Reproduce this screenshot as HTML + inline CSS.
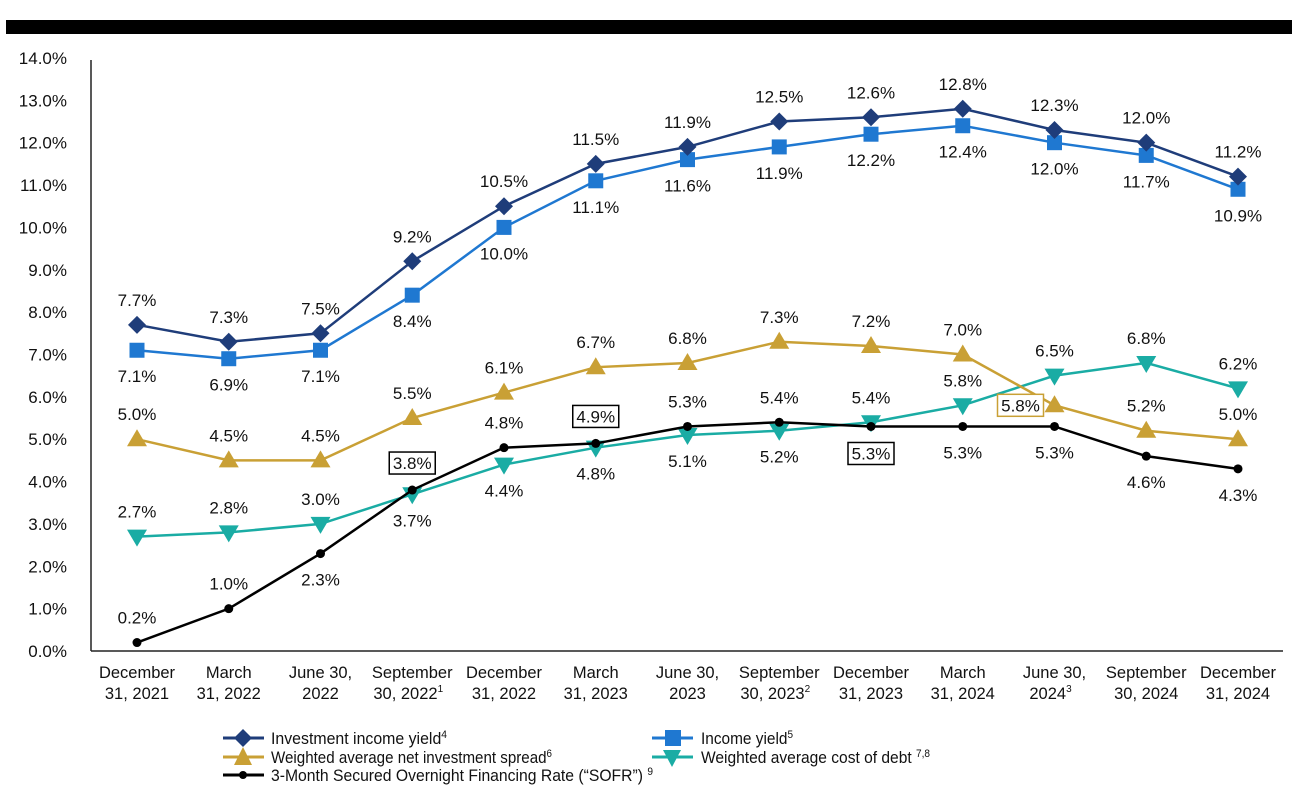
<!DOCTYPE html>
<html><head><meta charset="utf-8"><style>
body{margin:0;background:#fff;width:1292px;height:801px;overflow:hidden}
svg text{font-family:"Liberation Sans",Arial,sans-serif;fill:#111}
</style></head><body>
<svg id="chart" width="1292" height="801" viewBox="0 0 1292 801" xmlns="http://www.w3.org/2000/svg">
<rect x="6" y="20" width="1286" height="14" fill="#000"/>
<g id="axes"></g><g id="series"></g>
<g id="legend" font-size="17">
 <g>
  <line x1="223" y1="738" x2="264" y2="738" stroke="#1f3d7a" stroke-width="3"/><path d="M243 729 L252 738 L243 747 L234 738Z" fill="#1f3d7a"/>
  <text x="271" y="744" textLength="176" lengthAdjust="spacingAndGlyphs">Investment income yield<tspan font-size="11" dy="-6">4</tspan></text></g>
 <g>
  <line x1="652" y1="738" x2="693" y2="738" stroke="#1f78d1" stroke-width="3"/><rect x="665" y="730" width="16" height="16" fill="#1f78d1"/>
  <text x="701" y="744" textLength="92" lengthAdjust="spacingAndGlyphs">Income yield<tspan font-size="11" dy="-6">5</tspan></text></g>
 <g>
  <line x1="223" y1="757" x2="264" y2="757" stroke="#c9a035" stroke-width="3"/><path d="M243 747 L252 765 L234 765Z" fill="#c9a035"/>
  <text x="271" y="763" textLength="281" lengthAdjust="spacingAndGlyphs">Weighted average net investment spread<tspan font-size="11" dy="-6">6</tspan></text></g>
 <g>
  <line x1="652" y1="757" x2="693" y2="757" stroke="#1aaca4" stroke-width="3"/><path d="M663 750 L681 750 L672 767Z" fill="#1aaca4"/>
  <text x="701" y="763" textLength="229" lengthAdjust="spacingAndGlyphs">Weighted average cost of debt <tspan font-size="11" dy="-6">7,8</tspan></text></g>
 <g>
  <line x1="223" y1="775" x2="264" y2="775" stroke="#000" stroke-width="3"/><circle cx="243" cy="775" r="4" fill="#000"/>
  <text x="271" y="781" textLength="382" lengthAdjust="spacingAndGlyphs">3-Month Secured Overnight Financing Rate (“SOFR”) <tspan font-size="11" dy="-6">9</tspan></text></g>
</g>
</svg>
<script>
const categories1 = ["December","March","June 30,","September","December","March","June 30,","September","December","March","June 30,","September","December"];
const categories2 = ["31, 2021","31, 2022","2022","30, 2022","31, 2022","31, 2023","2023","30, 2023","31, 2023","31, 2024","2024","30, 2024","31, 2024"];
const categorySup = ["","","","1","","","","2","","","3","",""];
const yTicks = [0,1,2,3,4,5,6,7,8,9,10,11,12,13,14];
const investmentIncomeYield = [7.7,7.3,7.5,9.2,10.5,11.5,11.9,12.5,12.6,12.8,12.3,12.0,11.2];
const incomeYield = [7.1,6.9,7.1,8.4,10.0,11.1,11.6,11.9,12.2,12.4,12.0,11.7,10.9];
const netSpread = [5.0,4.5,4.5,5.5,6.1,6.7,6.8,7.3,7.2,7.0,5.8,5.2,5.0];
const costOfDebt = [2.7,2.8,3.0,3.7,4.4,4.8,5.1,5.2,5.4,5.8,6.5,6.8,6.2];
const sofr = [0.2,1.0,2.3,3.8,4.8,4.9,5.3,5.4,5.3,5.3,5.3,4.6,4.3];
const ns="http://www.w3.org/2000/svg";
const x=i=>137+i*91.75;
const y=v=>651-v*42.36;
function el(t,a,p){const e=document.createElementNS(ns,t);for(const k in a)e.setAttribute(k,a[k]);p.appendChild(e);return e;}
const axes=document.getElementById('axes');
let l=el('line',{x1:91,y1:60,x2:91,y2:651,stroke:'#222','stroke-width':1.5},axes);


l=el('line',{x1:91,y1:651,x2:1283,y2:651,stroke:'#222','stroke-width':1.5},axes);


yTicks.forEach(v=>{const t=el('text',{x:67,y:y(v)+6,'text-anchor':'end','font-size':17},axes);t.textContent=v.toFixed(1)+'%';

});
categories1.forEach((c,i)=>{const t=el('text',{x:x(i),y:678,'text-anchor':'middle','font-size':16.5},axes);t.textContent=c;


const t2=el('text',{x:x(i)-(categorySup[i]?4:0),y:699,'text-anchor':'middle','font-size':16.5},axes);t2.textContent=categories2[i];


if(categorySup[i]){const s=el('tspan',{'font-size':10,dy:-7},t2);s.textContent=categorySup[i];}});
const series=[
 {name:'cost-of-debt',d:costOfDebt,c:'#1aaca4',m:'tri-down',pos:['a','a','a','b','b','b','b','b','a','a','a','a','a']},
 {name:'net-investment-spread',d:netSpread,c:'#c9a035',m:'tri-up',pos:['a','a','a','a','a','a','a','a','a','a','L','a','a']},
 {name:'income-yield',d:incomeYield,c:'#1f78d1',m:'square',pos:Array(13).fill('b')},
 {name:'investment-income-yield',d:investmentIncomeYield,c:'#1f3d7a',m:'diamond',pos:Array(13).fill('a')},
 {name:'sofr',d:sofr,c:'#000',m:'circle',pos:['a','a','b','A','a','A','a','a','B','b','b','b','b']}
];
const sg=document.getElementById('series');
const labels=[];
series.forEach(s=>{const g=el('g',{},sg);


const p=el('polyline',{points:s.d.map((v,i)=>x(i)+','+y(v)).join(' '),fill:'none',stroke:s.c,'stroke-width':2.5},g);


s.d.forEach((v,i)=>{const cx=x(i),cy=y(v);let m;
 if(s.m==='circle')m=el('circle',{cx,cy,r:4.5,fill:s.c},g);
 else if(s.m==='square')m=el('rect',{x:cx-7.5,y:cy-7.5,width:15,height:15,fill:s.c},g);
 else if(s.m==='diamond')m=el('path',{d:`M${cx} ${cy-9}L${cx+9} ${cy}L${cx} ${cy+9}L${cx-9} ${cy}Z`,fill:s.c},g);
 else if(s.m==='tri-up')m=el('path',{d:`M${cx} ${cy-10}L${cx+10} ${cy+7}L${cx-10} ${cy+7}Z`,fill:s.c},g);
 else m=el('path',{d:`M${cx-10} ${cy-7}L${cx+10} ${cy-7}L${cx} ${cy+10}Z`,fill:s.c},g);
 
 
 labels.push({v,cx,cy,pos:s.pos[i],c:s.c});});});
const lg=el('g',{},sg);


labels.forEach(o=>{let tx=o.cx,ty,box=false;
 if(o.pos==='a')ty=o.cy-25;else if(o.pos==='b')ty=o.cy+26;
 else if(o.pos==='A'){ty=o.cy-27;box=true;}else if(o.pos==='B'){ty=o.cy+27;box=true;}
 else {tx=o.cx-34;ty=o.cy;box=true;}
 if(box){const r=el('rect',{x:tx-23,y:ty-11,width:46,height:22,fill:'#fff',stroke:o.c==='#000'?'#000':o.c,'stroke-width':1.5},lg);
  
  }
 const t=el('text',{x:tx,y:ty+6,'text-anchor':'middle','font-size':17},lg);t.textContent=o.v.toFixed(1)+'%';
 
 });
</script>
</body></html>
